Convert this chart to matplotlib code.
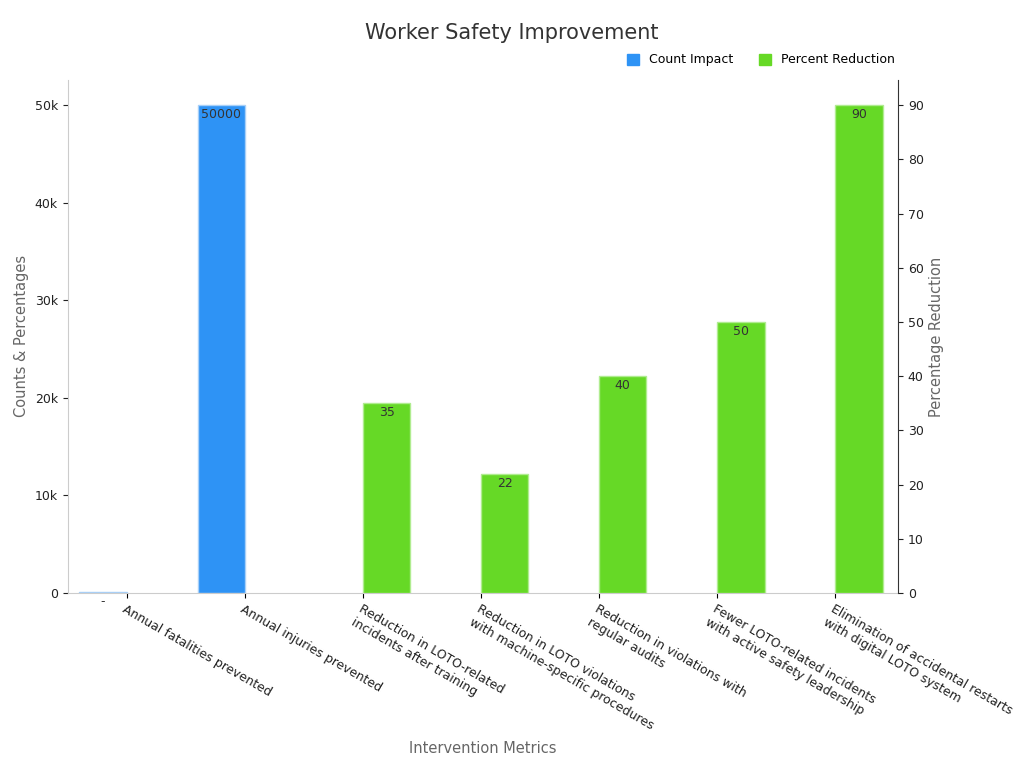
import matplotlib as mpl
mpl.use('Agg')
import matplotlib.pyplot as plt
import numpy as np
from matplotlib.ticker import FuncFormatter
from matplotlib.patches import Patch

categories = ["Annual fatalities prevented", "Annual injuries prevented",
              "Reduction in LOTO-related\nincidents after training",
              "Reduction in LOTO violations\nwith machine-specific procedures",
              "Reduction in violations with\nregular audits",
              "Fewer LOTO-related incidents\nwith active safety leadership",
              "Elimination of accidental restarts\nwith digital LOTO system"]
count_vals = [120, 50000, None, None, None, None, None]
pct_vals = [None, None, 35, 22, 40, 50, 90]

blue = '#2E93F5'
green = '#66D926'
fig, ax = plt.subplots(figsize=(10.24, 7.68), dpi=100)
ax2 = ax.twinx()
x = np.arange(len(categories))
w = 0.4
for i, v in enumerate(count_vals):
    if v is not None:
        ax.bar(x[i] - w / 2, v, w, color=blue, edgecolor='#a8d0f8', linewidth=1)
        ax.text(x[i] - w / 2, v - 300, "-" if v < 1000 else str(v), ha='center', va='top', fontsize=9, color='#333333')
for i, v in enumerate(pct_vals):
    if v is not None:
        ax2.bar(x[i] + w / 2, v, w, color=green, edgecolor='#b0ec90', linewidth=1)
        ax2.text(x[i] + w / 2, v - 0.6, str(v), ha='center', va='top', fontsize=9, color='#333333')

ax.set_ylim(0, 52600)
ax2.set_ylim(0, 52600 * 90 / 50000)
ax.set_xlim(-0.5, 6.53)
ax.set_yticks(range(0, 50001, 10000))
ax.yaxis.set_major_formatter(FuncFormatter(lambda v, p: '0' if v == 0 else f'{int(v/1000)}k'))
ax2.set_yticks(range(0, 91, 10))
ax.set_xticks(x)
ax.set_xticklabels(categories, rotation=-30, ha='left', rotation_mode='anchor', fontsize=9, color='#222222')
for a in (ax, ax2):
    a.tick_params(axis='y', labelsize=9, colors='#222222')
    a.spines['top'].set_visible(False)
ax.spines['right'].set_visible(False)
ax.spines['left'].set_color('#cccccc')
ax.spines['bottom'].set_color('#cccccc')
ax2.spines['left'].set_visible(False)
ax2.spines['bottom'].set_visible(False)
ax2.spines['right'].set_color('#333333')
ax.set_ylabel("Counts & Percentages", color='#666666', fontsize=10.5)
ax2.set_ylabel("Percentage Reduction", color='#666666', fontsize=10.5)
ax.set_xlabel("Intervention Metrics", color='#666666', fontsize=10.5, labelpad=6)
fig.suptitle("Worker Safety Improvement", fontsize=15, color='#333333', y=0.97)
fig.legend(handles=[Patch(color=blue, label='Count Impact'), Patch(color=green, label='Percent Reduction')],
           loc='upper right', bbox_to_anchor=(0.885, 0.945), ncol=2, frameon=False, fontsize=9,
           handlelength=1, handleheight=1, columnspacing=2)
plt.subplots_adjust(left=0.066, right=0.877, top=0.896, bottom=0.228)
fig.savefig('out.png')
